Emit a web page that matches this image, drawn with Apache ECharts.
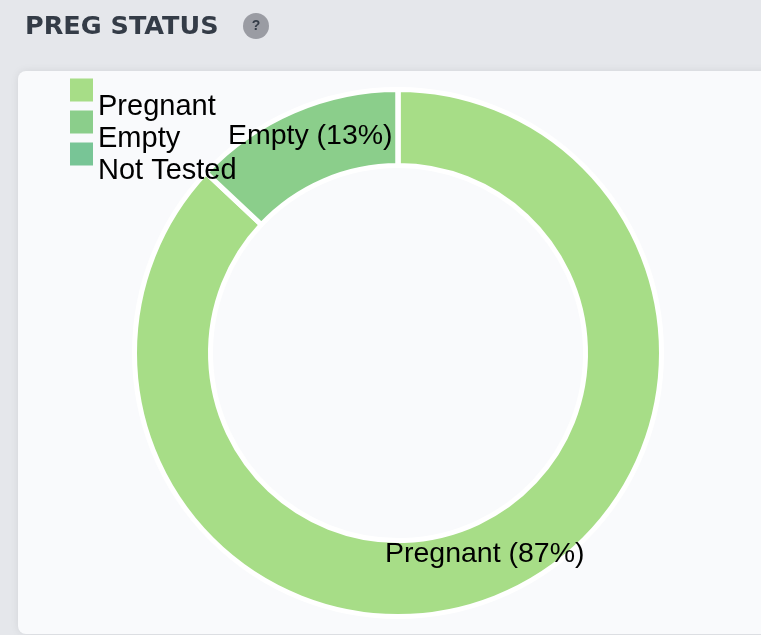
<!DOCTYPE html>
<html><head><meta charset="utf-8">
<style>html,body{margin:0;padding:0;background:#e5e7eb}#c{width:761px;height:635px}</style>
<script src="https://cdn.jsdelivr.net/npm/echarts@6/dist/echarts.min.js"></script>
</head><body><div id="c"></div>
<script>
const categories = ['Pregnant', 'Empty', 'Not Tested'];
const values = [87, 13, 0];
const colors = ['#a7dd87', '#8bce8b', '#78c596'];
const labelOffsets = [[-4, -9], [3, -7], [0, 0]];
const title = 'PREG STATUS';
const font = '"Liberation Sans", Arial, sans-serif';
const chart = echarts.init(document.getElementById('c'));
chart.setOption({
  animation: false,
  backgroundColor: '#e5e7eb',
  color: colors,
  title: {
    text: title, left: 25, top: 14, padding: 0,
    textStyle: { fontFamily: '"DejaVu Sans", sans-serif', fontSize: 25.5, fontWeight: 'bold', color: '#343c47' }
  },
  graphic: [
    { type: 'rect', z: -10, shape: { x: 18, y: 71, width: 780, height: 563, r: 8 },
      style: { fill: '#f9fafc', shadowBlur: 8, shadowColor: 'rgba(0,0,0,0.08)' } },
    { type: 'circle', shape: { cx: 256, cy: 26, r: 13 }, style: { fill: '#9a9ca3' } },
    { type: 'text', x: 256, y: 26, style: { text: '?', fill: '#343c47', font: 'bold 14px ' + font, align: 'center', verticalAlign: 'middle' } }
  ],
  legend: {
    orient: 'vertical', left: 70, top: 56, padding: 0,
    itemWidth: 23, itemHeight: 23, itemGap: -36, icon: 'rect',
    itemStyle: { borderWidth: 0 },
    data: categories,
    formatter: name => '\n' + name,
    textStyle: { fontFamily: font, fontSize: 29, color: '#000', lineHeight: 34 }
  },
  series: [{
    type: 'pie',
    center: [398, 353],
    radius: [187.5, 263.5],
    startAngle: 90,
    clockwise: true,
    avoidLabelOverlap: false,
    itemStyle: { borderColor: '#ffffff', borderWidth: 5 },
    label: { show: true, position: 'inside', formatter: '{b} ({d}%)', fontFamily: font, fontSize: 28.5, color: '#000', textBorderWidth: 0 },
    labelLine: { show: false },
    data: categories.map((name, i) => ({
      name, value: values[i],
      label: { show: values[i] > 0, offset: labelOffsets[i] }
    }))
  }]
});
</script></body></html>
